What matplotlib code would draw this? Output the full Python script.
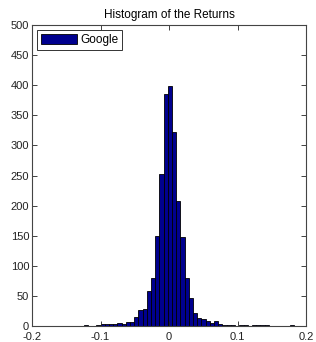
import numpy as np
import matplotlib
matplotlib.use('Agg')
import matplotlib.pyplot as plt

# returns histogram, 50 bins between min and max return
ret_min = -0.1244
ret_max = 0.1824
counts = [2, 0, 0, 2, 3, 4, 3, 3, 5, 4,
          6, 7, 15, 27, 28, 58, 79, 150, 252, 385,
          399, 322, 208, 148, 80, 46, 22, 14, 12, 9,
          5, 8, 3, 2, 1, 1, 0, 2, 1, 0,
          1, 1, 1, 1, 0, 0, 0, 0, 0, 2]
xticks = [-0.2, -0.1, 0, 0.1, 0.2]
xticklabels = ['-0.2', '-0.1', '0', '0.1', '0.2']
yticks = list(range(0, 501, 50))

plt.rcParams['font.family'] = ['Liberation Sans', 'DejaVu Sans']

edges = np.linspace(ret_min, ret_max, len(counts) + 1)
fig = plt.figure(figsize=(3.16, 3.42), dpi=100)
ax = fig.add_axes([32 / 316, 16 / 342, 274 / 316, 301 / 342])
ax.bar(edges[:-1], counts, width=np.diff(edges), align='edge',
       color='#00008f', edgecolor='#000000', linewidth=0.6, label='Google')
ax.set_xlim(-0.2, 0.2)
ax.set_ylim(0, 500)
ax.set_xticks(xticks)
ax.set_xticklabels(xticklabels)
ax.set_yticks(yticks)
ax.tick_params(direction='in', top=True, right=True, length=3.5, width=0.6,
               labelsize=8, colors='#222222')
ax.tick_params(axis='x', pad=4.5)
ax.tick_params(axis='y', pad=2)
for s in ax.spines.values():
    s.set_linewidth(0.8)
    s.set_color('#444444')
ax.set_title('Histogram of the Returns', fontsize=8.5, pad=5)
leg = ax.legend(loc='upper left', fontsize=8.5, fancybox=False, framealpha=1,
                edgecolor='#333333', handlelength=3.1, handleheight=0.95,
                borderpad=0.3, handletextpad=0.25, borderaxespad=0.45)
leg.get_frame().set_linewidth(0.7)
fig.savefig('out.png', dpi=100)
